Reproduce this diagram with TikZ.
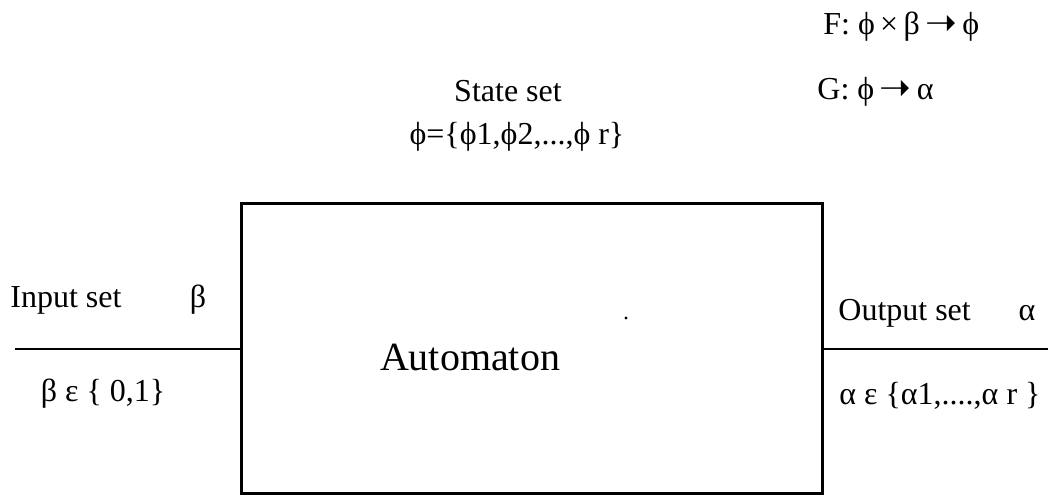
\documentclass[tikz,border=0pt]{standalone}
\usepackage{fontspec}
\setmainfont{Liberation Serif}
\newfontfamily\arrowfont{DejaVu Sans}
\usetikzlibrary{positioning}
\newcommand{\maparrow}{\,\raisebox{-0.5pt}{\arrowfont\fontsize{19}{21}\selectfont ➝}\,}
\tikzset{
 every node/.style={font=\fontsize{16}{19}\selectfont,inner sep=0pt},
 lbl/.style={anchor=base west},
 mid/.style={anchor=base},
 wire/.style={line width=1pt},
 core/.style={draw,line width=1.5pt,minimum width=290.5pt,minimum height=145pt},
 big/.style={font=\fontsize{20}{24}\selectfont,anchor=base},
 }
\begin{document}
\begin{tikzpicture}[x=0.5pt,y=-0.5pt]
 \useasboundingbox (0,0) rectangle (1057,496);
 % automaton block
 \node[core] (auto) at (531.5,349) {};
 \node[big] (autotxt) at (470,371) {Automaton};
 \fill (626,318) circle (0.8pt);
 % input and output lines
 \coordinate (inL) at (15,349);
 \coordinate (outR) at (1048,349);
 \draw[wire] (inL) -- (auto.west);
 \draw[wire] (auto.east) -- (outR);
 % labels
 \node[lbl] (inset) at (10,308) {Input set};
 \node[mid] (inbeta) at (198,308) {β};
 \node[mid] (inrange) at (103,402) {β ε \{ 0,1\}};
 \node[lbl] (outset) at (838,321) {Output set};
 \node[mid] (outalpha) at (1027,321) {α};
 \node[lbl] (outrange) at (839,405) {α ε \{α1,....,α r \}};
 \node[mid] (state) at (508,102) {State set};
 \node[mid] (stateset) at (517,145) {ϕ=\{ϕ1,ϕ2,...,ϕ r\}};
 \node[lbl] (mapF) at (823,35) {F: ϕ\,×\,β\maparrow ϕ};
 \node[lbl] (mapG) at (817,100) {G: ϕ\maparrow α};
\end{tikzpicture}
\end{document}
